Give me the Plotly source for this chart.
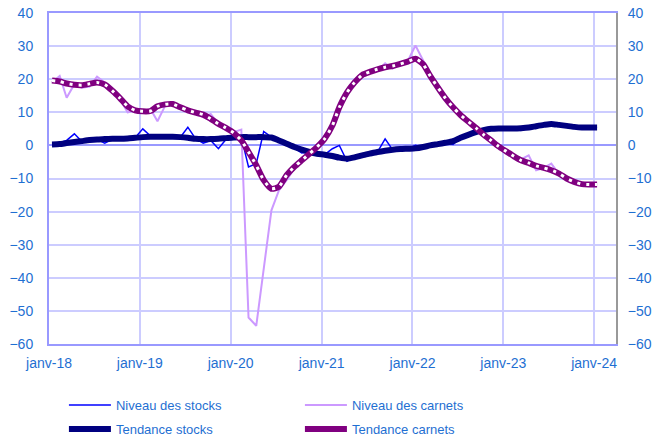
import pandas as pd
import plotly.graph_objects as go

# Monthly data, janv-2018 .. janv-2024 (73 months)
months = pd.date_range("2018-01-01", periods=73, freq="MS") + pd.Timedelta(days=12)

niveau_stocks = [
    0.3, 0.8, 1.5, 3.5, 1.2, 1.6, 1.8, 0.7, 1.8, 2.0, 2.1, 2.3,
    5.0, 2.8, 2.6, 2.6, 2.6, 2.5, 5.5, 2.0, 0.7, 1.5, -1.0, 1.8,
    2.5, 2.5, -6.5, -5.5, 4.2, 2.5, 1.5, 0.3, -0.8, -2.3, -2.0, -2.6,
    -2.8, -1.0, 0.0, -4.8, -3.5, -3.0, -2.5, -2.0, 2.0, -1.3, -1.1, -1.0,
    0.0, -0.5, 0.0, 0.4, 0.8, 0.3, 2.3, 3.2, 5.2, 4.6, 5.0, 5.1,
    5.1, 5.1, 4.5, 5.4, 5.8, 6.2, 6.5, 6.2, 5.9, 5.6, 5.4, 5.4,
    5.4,
]

tendance_stocks = [
    0.3, 0.4, 0.7, 1.0, 1.3, 1.6, 1.8, 1.9, 2.0, 2.0, 2.1, 2.3,
    2.5, 2.6, 2.6, 2.6, 2.6, 2.5, 2.3, 2.0, 1.9, 1.9, 2.0, 2.2,
    2.4, 2.5, 2.5, 2.5, 2.5, 2.4, 1.5, 0.5, -0.5, -1.3, -2.0, -2.5,
    -2.8, -3.2, -3.7, -4.0, -3.6, -3.0, -2.5, -2.0, -1.6, -1.3, -1.1, -1.0,
    -0.9, -0.5, 0.0, 0.4, 0.8, 1.3, 2.3, 3.2, 4.0, 4.6, 5.0, 5.1,
    5.1, 5.1, 5.2, 5.4, 5.8, 6.2, 6.5, 6.2, 5.9, 5.6, 5.4, 5.4,
    5.4,
]

niveau_carnets = [
    19.0, 21.0, 14.4, 18.5, 17.4, 17.8, 20.8, 19.0, 16.5, 14.0, 10.0, 10.5,
    10.3, 11.0, 7.3, 12.0, 13.0, 11.5, 10.5, 9.5, 8.5, 9.5, 6.5, 5.5,
    4.0, 4.8, -52.0, -54.5, -37.0, -19.6, -13.6, -10.5, -7.0, -4.5, -2.5, -0.5,
    2.0, 6.0, 11.5, 16.0, 19.0, 21.3, 22.2, 22.5, 24.8, 23.2, 24.5, 25.5,
    30.2, 25.5, 21.5, 17.8, 14.5, 11.5, 9.2, 7.2, 5.3, 3.3, 1.5, -0.3,
    -1.8, -3.0, -4.2, -3.0, -7.5, -6.8, -5.5, -8.7, -10.0, -11.0, -11.8, -11.8,
    -11.8,
]

tendance_carnets = [
    19.6, 19.3, 18.7, 18.3, 18.2, 18.6, 19.0, 18.4, 16.5, 14.3, 11.8, 10.6,
    10.3, 10.4, 11.8, 12.4, 12.5, 11.5, 10.6, 9.9, 9.3, 8.0, 6.5, 5.3,
    3.8, 1.5, -2.0, -6.0, -10.5, -13.1, -12.5, -9.0, -6.5, -4.5, -2.5, -0.5,
    2.0, 6.0, 11.5, 16.0, 19.0, 21.3, 22.2, 23.0, 23.6, 24.0, 24.6, 25.3,
    26.2, 24.5, 21.0, 17.5, 14.3, 11.5, 9.2, 7.2, 5.3, 3.3, 1.5, -0.3,
    -1.8, -3.3, -4.5, -5.3, -6.2, -6.8, -7.5, -8.5, -10.0, -11.0, -11.7, -11.8,
    -11.8,
]

tick_dates = pd.date_range("2018-01-01", "2024-01-01", freq="YS")
tick_labels = ["janv-18", "janv-19", "janv-20", "janv-21", "janv-22", "janv-23", "janv-24"]

TXT = "#1f6fd2"
FONT = "Arial, Liberation Sans, sans-serif"

fig = go.Figure()
fig.add_trace(go.Scatter(x=months, y=niveau_stocks, mode="lines", name="Niveau des stocks",
                         legend="legend",
                         line=dict(color="#0000ff", width=1.5)))
fig.add_trace(go.Scatter(x=months, y=niveau_carnets, mode="lines", name="Niveau des carnets",
                         legend="legend",
                         line=dict(color="#cc99ff", width=2)))
fig.add_trace(go.Scatter(x=months, y=tendance_stocks, mode="lines", name="Tendance stocks",
                         legend="legend2",
                         line=dict(color="#000080", width=6, shape="spline", smoothing=0.6)))
fig.add_trace(go.Scatter(x=months, y=tendance_carnets, mode="lines", name="Tendance carnets",
                         legend="legend2", legendgroup="tc",
                         line=dict(color="#800080", width=6, shape="spline", smoothing=0.6)))
fig.add_trace(go.Scatter(x=months, y=tendance_carnets, mode="lines", name="Tendance carnets",
                         legend="legend2", legendgroup="tc", showlegend=False, hoverinfo="skip",
                         line=dict(color="white", width=3, dash="3px,6px",
                                   shape="spline", smoothing=0.6)))
# invisible trace to carry the right axis
fig.add_trace(go.Scatter(x=months[:1], y=[0], yaxis="y2", mode="lines", showlegend=False,
                         hoverinfo="skip", line=dict(width=0)))

leg_common = dict(orientation="h", xref="container", yref="container",
                  xanchor="left", yanchor="middle",
                  entrywidth=179, entrywidthmode="pixels", itemwidth=42,
                  font=dict(family=FONT, size=13, color=TXT),
                  bgcolor="rgba(0,0,0,0)")

fig.update_layout(
    width=659, height=439, autosize=False,
    margin=dict(l=49, r=43, t=13, b=95, autoexpand=False),
    paper_bgcolor="white", plot_bgcolor="white",
    font=dict(family=FONT, size=14, color=TXT),
    showlegend=True,
    legend=dict(leg_common, x=0.097, y=1 - 405 / 439),
    legend2=dict(leg_common, x=0.097, y=1 - 429 / 439),
    xaxis=dict(
        type="date", range=["2018-01-01", "2024-03-29"], automargin=False,
        tickvals=tick_dates, ticktext=tick_labels,
        ticks="outside", ticklen=5, tickcolor="rgba(0,0,0,0)",
        showgrid=True, gridcolor="#ccccff", gridwidth=2,
        showline=True, linecolor="#9999ff", linewidth=2, mirror=True,
        tickfont=dict(family=FONT, size=14, color=TXT),
    ),
    yaxis=dict(
        range=[-60, 40], dtick=10, tick0=0, automargin=False,
        ticks="outside", ticklen=11, tickcolor="rgba(0,0,0,0)",
        showgrid=True, gridcolor="#ccccff", gridwidth=2,
        zeroline=True, zerolinecolor="#9999ff", zerolinewidth=2,
        showline=True, linecolor="#9999ff", linewidth=2,
        tickfont=dict(family=FONT, size=14, color=TXT),
    ),
    yaxis2=dict(
        overlaying="y", side="right", anchor="x", matches="y", automargin=False,
        range=[-60, 40], dtick=10, tick0=0,
        ticks="outside", ticklen=7, tickcolor="rgba(0,0,0,0)",
        showgrid=False, zeroline=False,
        showline=True, linecolor="#999999", linewidth=2,
        tickfont=dict(family=FONT, size=14, color=TXT),
    ),
)

fig.write_html("out.html", config={"displayModeBar": False},
               post_script="document.body.style.margin='0';")
